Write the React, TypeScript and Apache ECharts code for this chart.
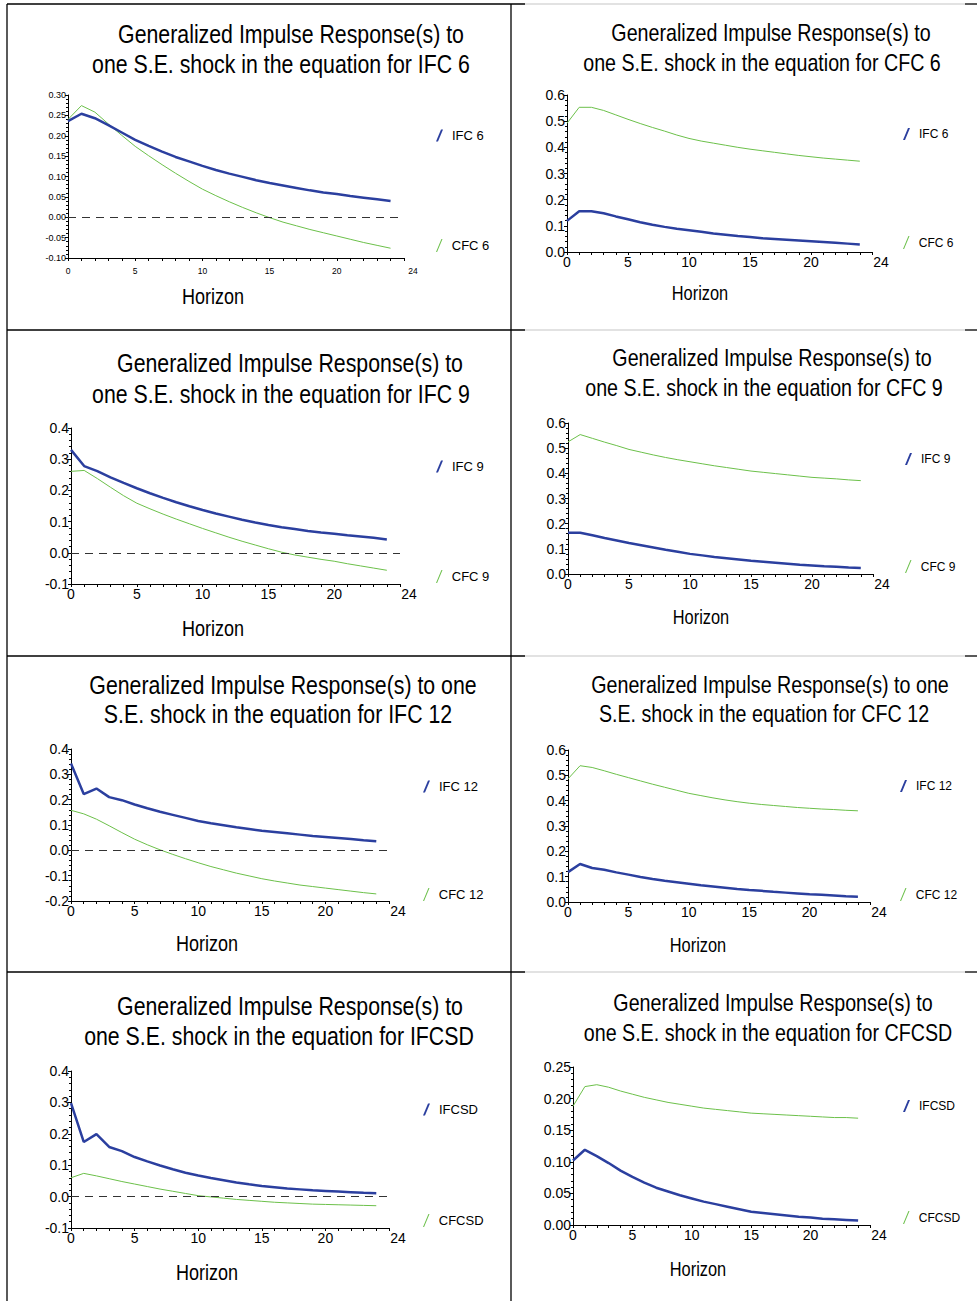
import { useEffect, useRef } from 'react';
import * as echarts from 'echarts';

// ---------- data ----------
const HORIZON = [0, 1, 2, 3, 4, 5, 6, 7, 8, 9, 10, 11, 12, 13, 14, 15, 16, 17, 18, 19, 20, 21, 22, 23, 24];

// shock: IFC 6
const IFC6_TO_IFC6 = [0.236, 0.254, 0.243, 0.226, 0.208, 0.190, 0.175, 0.161, 0.148, 0.137, 0.126, 0.116, 0.107, 0.099, 0.091, 0.084, 0.078, 0.072, 0.066, 0.061, 0.057, 0.052, 0.048, 0.044, 0.040];
const CFC6_TO_IFC6 = [0.240, 0.274, 0.258, 0.229, 0.201, 0.174, 0.151, 0.129, 0.108, 0.088, 0.069, 0.053, 0.038, 0.024, 0.011, -0.001, -0.012, -0.021, -0.030, -0.038, -0.046, -0.054, -0.062, -0.069, -0.076];
// shock: CFC 6
const IFC6_TO_CFC6 = [0.119, 0.156, 0.156, 0.148, 0.136, 0.125, 0.114, 0.104, 0.096, 0.089, 0.083, 0.077, 0.071, 0.066, 0.061, 0.057, 0.053, 0.050, 0.047, 0.044, 0.041, 0.038, 0.035, 0.032, 0.029];
const CFC6_TO_CFC6 = [0.492, 0.553, 0.553, 0.541, 0.524, 0.507, 0.491, 0.476, 0.462, 0.447, 0.434, 0.424, 0.416, 0.408, 0.400, 0.393, 0.387, 0.381, 0.375, 0.369, 0.364, 0.359, 0.355, 0.351, 0.347];
// shock: IFC 9
const IFC9_TO_IFC9 = [0.330, 0.278, 0.262, 0.242, 0.224, 0.207, 0.191, 0.176, 0.162, 0.149, 0.137, 0.126, 0.116, 0.106, 0.097, 0.089, 0.082, 0.076, 0.070, 0.065, 0.061, 0.056, 0.052, 0.048, 0.043];
const CFC9_TO_IFC9 = [0.261, 0.264, 0.238, 0.210, 0.183, 0.159, 0.141, 0.124, 0.108, 0.093, 0.078, 0.064, 0.050, 0.037, 0.025, 0.013, 0.002, -0.007, -0.014, -0.021, -0.027, -0.035, -0.042, -0.049, -0.056];
// shock: CFC 9
const IFC9_TO_CFC9 = [0.164, 0.164, 0.154, 0.143, 0.133, 0.123, 0.114, 0.105, 0.096, 0.088, 0.080, 0.074, 0.068, 0.063, 0.058, 0.053, 0.049, 0.045, 0.041, 0.037, 0.034, 0.031, 0.029, 0.026, 0.024];
const CFC9_TO_CFC9 = [0.525, 0.554, 0.539, 0.524, 0.510, 0.495, 0.484, 0.473, 0.463, 0.454, 0.446, 0.438, 0.430, 0.423, 0.416, 0.409, 0.404, 0.399, 0.394, 0.389, 0.384, 0.381, 0.378, 0.374, 0.371];
// shock: IFC 12
const IFC12_TO_IFC12 = [0.343, 0.222, 0.244, 0.210, 0.198, 0.181, 0.166, 0.152, 0.140, 0.128, 0.116, 0.107, 0.099, 0.091, 0.084, 0.077, 0.072, 0.067, 0.062, 0.057, 0.053, 0.049, 0.045, 0.040, 0.036];
const CFC12_TO_IFC12 = [0.158, 0.144, 0.123, 0.097, 0.070, 0.044, 0.022, 0.002, -0.016, -0.033, -0.049, -0.064, -0.077, -0.090, -0.101, -0.112, -0.121, -0.129, -0.137, -0.143, -0.149, -0.155, -0.161, -0.167, -0.172];
// shock: CFC 12
const IFC12_TO_CFC12 = [0.118, 0.150, 0.134, 0.127, 0.117, 0.108, 0.099, 0.091, 0.084, 0.078, 0.072, 0.066, 0.061, 0.056, 0.051, 0.047, 0.044, 0.040, 0.037, 0.034, 0.031, 0.029, 0.026, 0.023, 0.021];
const CFC12_TO_CFC12 = [0.486, 0.538, 0.531, 0.518, 0.504, 0.491, 0.478, 0.465, 0.453, 0.441, 0.429, 0.420, 0.411, 0.403, 0.396, 0.390, 0.385, 0.381, 0.377, 0.373, 0.370, 0.367, 0.365, 0.362, 0.360];
// shock: IFCSD
const IFCSD_TO_IFCSD = [0.298, 0.174, 0.199, 0.158, 0.145, 0.126, 0.112, 0.099, 0.087, 0.076, 0.067, 0.059, 0.052, 0.045, 0.039, 0.034, 0.030, 0.026, 0.023, 0.020, 0.018, 0.016, 0.014, 0.012, 0.011];
const CFCSD_TO_IFCSD = [0.060, 0.074, 0.066, 0.057, 0.048, 0.040, 0.032, 0.024, 0.017, 0.010, 0.003, -0.001, -0.005, -0.009, -0.012, -0.015, -0.018, -0.020, -0.022, -0.024, -0.025, -0.026, -0.027, -0.028, -0.029];
// shock: CFCSD
const IFCSD_TO_CFCSD = [0.102, 0.119, 0.109, 0.098, 0.086, 0.076, 0.067, 0.059, 0.053, 0.047, 0.042, 0.037, 0.033, 0.029, 0.025, 0.021, 0.019, 0.017, 0.015, 0.013, 0.012, 0.010, 0.009, 0.008, 0.007];
const CFCSD_TO_CFCSD = [0.188, 0.219, 0.222, 0.218, 0.212, 0.207, 0.202, 0.198, 0.194, 0.191, 0.188, 0.185, 0.183, 0.181, 0.179, 0.177, 0.176, 0.175, 0.174, 0.173, 0.172, 0.171, 0.170, 0.170, 0.169];

const TITLES = [
  ['Generalized Impulse Response(s) to', 'one S.E. shock in the equation for IFC 6'],
  ['Generalized Impulse Response(s) to', 'one S.E. shock in the equation for CFC 6'],
  ['Generalized Impulse Response(s) to', 'one S.E. shock in the equation for IFC 9'],
  ['Generalized Impulse Response(s) to', 'one S.E. shock in the equation for CFC 9'],
  ['Generalized Impulse Response(s) to one', 'S.E. shock in the equation for IFC 12'],
  ['Generalized Impulse Response(s) to one', 'S.E. shock in the equation for CFC 12'],
  ['Generalized Impulse Response(s) to', 'one S.E. shock in the equation for IFCSD'],
  ['Generalized Impulse Response(s) to', 'one S.E. shock in the equation for CFCSD'],
];
const SERIES_NAMES = [
  ['IFC 6', 'CFC 6'], ['IFC 6', 'CFC 6'],
  ['IFC 9', 'CFC 9'], ['IFC 9', 'CFC 9'],
  ['IFC 12', 'CFC 12'], ['IFC 12', 'CFC 12'],
  ['IFCSD', 'CFCSD'], ['IFCSD', 'CFCSD'],
];
const BLUE_DATA = [IFC6_TO_IFC6, IFC6_TO_CFC6, IFC9_TO_IFC9, IFC9_TO_CFC9, IFC12_TO_IFC12, IFC12_TO_CFC12, IFCSD_TO_IFCSD, IFCSD_TO_CFCSD];
const GREEN_DATA = [CFC6_TO_IFC6, CFC6_TO_CFC6, CFC9_TO_IFC9, CFC9_TO_CFC9, CFC12_TO_IFC12, CFC12_TO_CFC12, CFCSD_TO_IFCSD, CFCSD_TO_CFCSD];
// y-axis scale [min, max, interval, decimals]
const Y_SCALES = [
  [-0.1, 0.3, 0.05, 2], [0, 0.6, 0.1, 1],
  [-0.1, 0.4, 0.1, 1], [0, 0.6, 0.1, 1],
  [-0.2, 0.4, 0.1, 1], [0, 0.6, 0.1, 1],
  [-0.1, 0.4, 0.1, 1], [0, 0.25, 0.05, 2],
];
const X_MAX = 25;
const X_END_LABEL = '24';
const X_AXIS_NAME = 'Horizon';

// ---------- layout ----------
const FONT = "'Liberation Sans', Arial, sans-serif";
const NARROW = 0.82; // horizontal squeeze to imitate a narrow face
const BLUE = '#2b3f9f';
const GREEN = '#6cc04a';

const GRIDS = [
  { left: 68, top: 95, width: 336, height: 163 },
  { left: 567, top: 95, width: 305, height: 157 },
  { left: 71, top: 428, width: 329, height: 156 },
  { left: 568, top: 423, width: 305, height: 151 },
  { left: 71, top: 749, width: 318, height: 152 },
  { left: 568, top: 750, width: 302, height: 152 },
  { left: 71, top: 1071, width: 318, height: 157 },
  { left: 573, top: 1067, width: 297, height: 158 },
];
// title line centres: [x1, y1, x2, y2]
const TITLE_POS = [
  [291, 34, 281, 64], [771, 33, 762, 63],
  [290, 363, 281, 394], [772, 358, 764, 388],
  [283, 685, 278, 714], [770, 685, 764, 714],
  [290, 1006, 279, 1036], [773, 1003, 768, 1033],
];
const HORIZON_POS = [
  [213, 296], [700, 293], [213, 628], [701, 617],
  [207, 943], [698, 945], [207, 1272], [698, 1269],
];
// legend marker left x, centre y of first / second item
const LEGEND_POS = [
  [436, 136, 246], [903, 135, 243],
  [436, 467, 577], [905, 460, 567],
  [423, 787, 895], [900, 787, 895],
  [423, 1110, 1221], [903, 1107, 1218],
];

function narrowText(text: string, x: number, y: number, size: number) {
  return {
    type: 'text',
    x,
    y,
    scaleX: NARROW,
    silent: true,
    style: {
      text,
      fill: '#000',
      font: `${size}px ${FONT}`,
      align: 'center',
      verticalAlign: 'middle',
      textAlign: 'center',
      textVerticalAlign: 'middle',
    },
  };
}

function buildOption() {
  const grid: any[] = [];
  const xAxis: any[] = [];
  const yAxis: any[] = [];
  const series: any[] = [];
  const legend: any[] = [];
  const graphic: any[] = [];

  for (let i = 0; i < 8; i++) {
    const right = i % 2 === 1;
    const small = i === 0;
    const [ymin, ymax, yint, dec] = Y_SCALES[i];
    const xfs = small ? 8.5 : 14;
    grid.push({ ...GRIDS[i], containLabel: false });
    xAxis.push({
      type: 'value',
      gridIndex: i,
      min: 0,
      max: X_MAX,
      interval: 1,
      axisLine: { show: true, onZero: false, lineStyle: { color: '#000', width: 1 } },
      axisTick: { show: true, length: 3, lineStyle: { color: '#000' } },
      splitLine: { show: false },
      axisLabel: {
        show: true,
        margin: small ? 8 : 3,
        color: '#000',
        fontFamily: FONT,
        fontSize: xfs,
        hideOverlap: false,
        showMinLabel: true,
        showMaxLabel: true,
        formatter: (v: number) => (v === X_MAX ? '{end|' + X_END_LABEL + '}' : v % 5 === 0 ? String(v) : ''),
        rich: { end: { fontFamily: FONT, fontSize: xfs, color: '#000', padding: [0, 0, 5, 18] } },
      },
    });
    yAxis.push({
      type: 'value',
      gridIndex: i,
      min: ymin,
      max: ymax,
      interval: yint,
      axisLine: { show: true, onZero: false, lineStyle: { color: '#000', width: 1 } },
      axisTick: { show: true, length: 3, lineStyle: { color: '#000' } },
      minorTick: { show: true, splitNumber: 5, length: 2, lineStyle: { color: '#000' } },
      splitLine: { show: false },
      axisLabel: {
        show: true,
        margin: 2,
        color: '#000',
        fontFamily: FONT,
        fontSize: small ? 9 : 14,
        formatter: (v: number) => (Math.abs(v) < 1e-9 ? 0 : v).toFixed(dec as number),
      },
    });
    const [nb, ng] = SERIES_NAMES[i];
    const hasNeg = ymin < 0;
    series.push({
      type: 'line',
      name: ng,
      xAxisIndex: i,
      yAxisIndex: i,
      data: HORIZON.map((h, k) => [h, GREEN_DATA[i][k]]),
      symbol: 'none',
      showSymbol: false,
      color: GREEN,
      lineStyle: { color: GREEN, width: 1 },
      z: 2,
      markLine: hasNeg
        ? {
            silent: true,
            symbol: ['none', 'none'],
            label: { show: false },
            lineStyle: { color: '#333', type: [8, 6], width: 1 },
            data: [{ yAxis: 0 }],
          }
        : undefined,
    });
    series.push({
      type: 'line',
      name: nb,
      xAxisIndex: i,
      yAxisIndex: i,
      data: HORIZON.map((h, k) => [h, BLUE_DATA[i][k]]),
      symbol: 'none',
      showSymbol: false,
      color: BLUE,
      lineStyle: { color: BLUE, width: 2.5 },
      z: 3,
    });

    const [lx, ly1, ly2] = LEGEND_POS[i];
    const lfs = right ? 12 : 13;
    [
      [nb, ly1, 'path://M0,12 L5,0 L7,0 L2,12 Z'],
      [ng, ly2, 'path://M0,12 L5,0 L6,0 L1,12 Z'],
    ].forEach(([name, cy, icon]) => {
      legend.push({
        show: true,
        selectedMode: false,
        left: lx,
        top: (cy as number) - 7,
        itemWidth: 7,
        itemHeight: 13,
        padding: 0,
        data: [{ name, icon }],
        textStyle: { fontFamily: FONT, fontSize: lfs, color: '#000', padding: [0, 0, 0, 4] },
      });
    });

    const [tx1, ty1, tx2, ty2] = TITLE_POS[i];
    const tfs = right ? 24 : 26;
    graphic.push(narrowText(TITLES[i][0], tx1, ty1, tfs));
    graphic.push(narrowText(TITLES[i][1], tx2, ty2, tfs));
    const [hx, hy] = HORIZON_POS[i];
    graphic.push(narrowText(X_AXIS_NAME, hx, hy, right ? 20 : 22));
  }

  // table rules
  const black = { stroke: '#000', lineWidth: 1.3 };
  const grey = { stroke: '#d8d8d8', lineWidth: 1.3 };
  graphic.push({ type: 'line', silent: true, shape: { x1: 7, y1: 4, x2: 7, y2: 1301 }, style: black });
  graphic.push({ type: 'line', silent: true, shape: { x1: 511, y1: 4, x2: 511, y2: 1301 }, style: black });
  [4, 330, 656, 972].forEach((y) => {
    graphic.push({ type: 'line', silent: true, shape: { x1: 7, y1: y, x2: 525, y2: y }, style: black });
    graphic.push({ type: 'line', silent: true, shape: { x1: 525, y1: y, x2: 965, y2: y }, style: grey });
    graphic.push({ type: 'line', silent: true, shape: { x1: 965, y1: y, x2: 977, y2: y }, style: black });
  });

  return {
    animation: false,
    backgroundColor: '#fff',
    grid,
    xAxis,
    yAxis,
    series,
    legend,
    graphic,
  };
}

export default function App() {
  const ref = useRef<HTMLDivElement>(null);
  useEffect(() => {
    if (!ref.current) return;
    const chart = echarts.init(ref.current, undefined, { renderer: 'svg' });
    chart.setOption(buildOption() as any);
    return () => chart.dispose();
  }, []);
  return (
    <div
      ref={ref}
      style={{ position: 'absolute', left: 0, top: 0, width: 977, height: 1301, background: '#fff' }}
    />
  );
}
